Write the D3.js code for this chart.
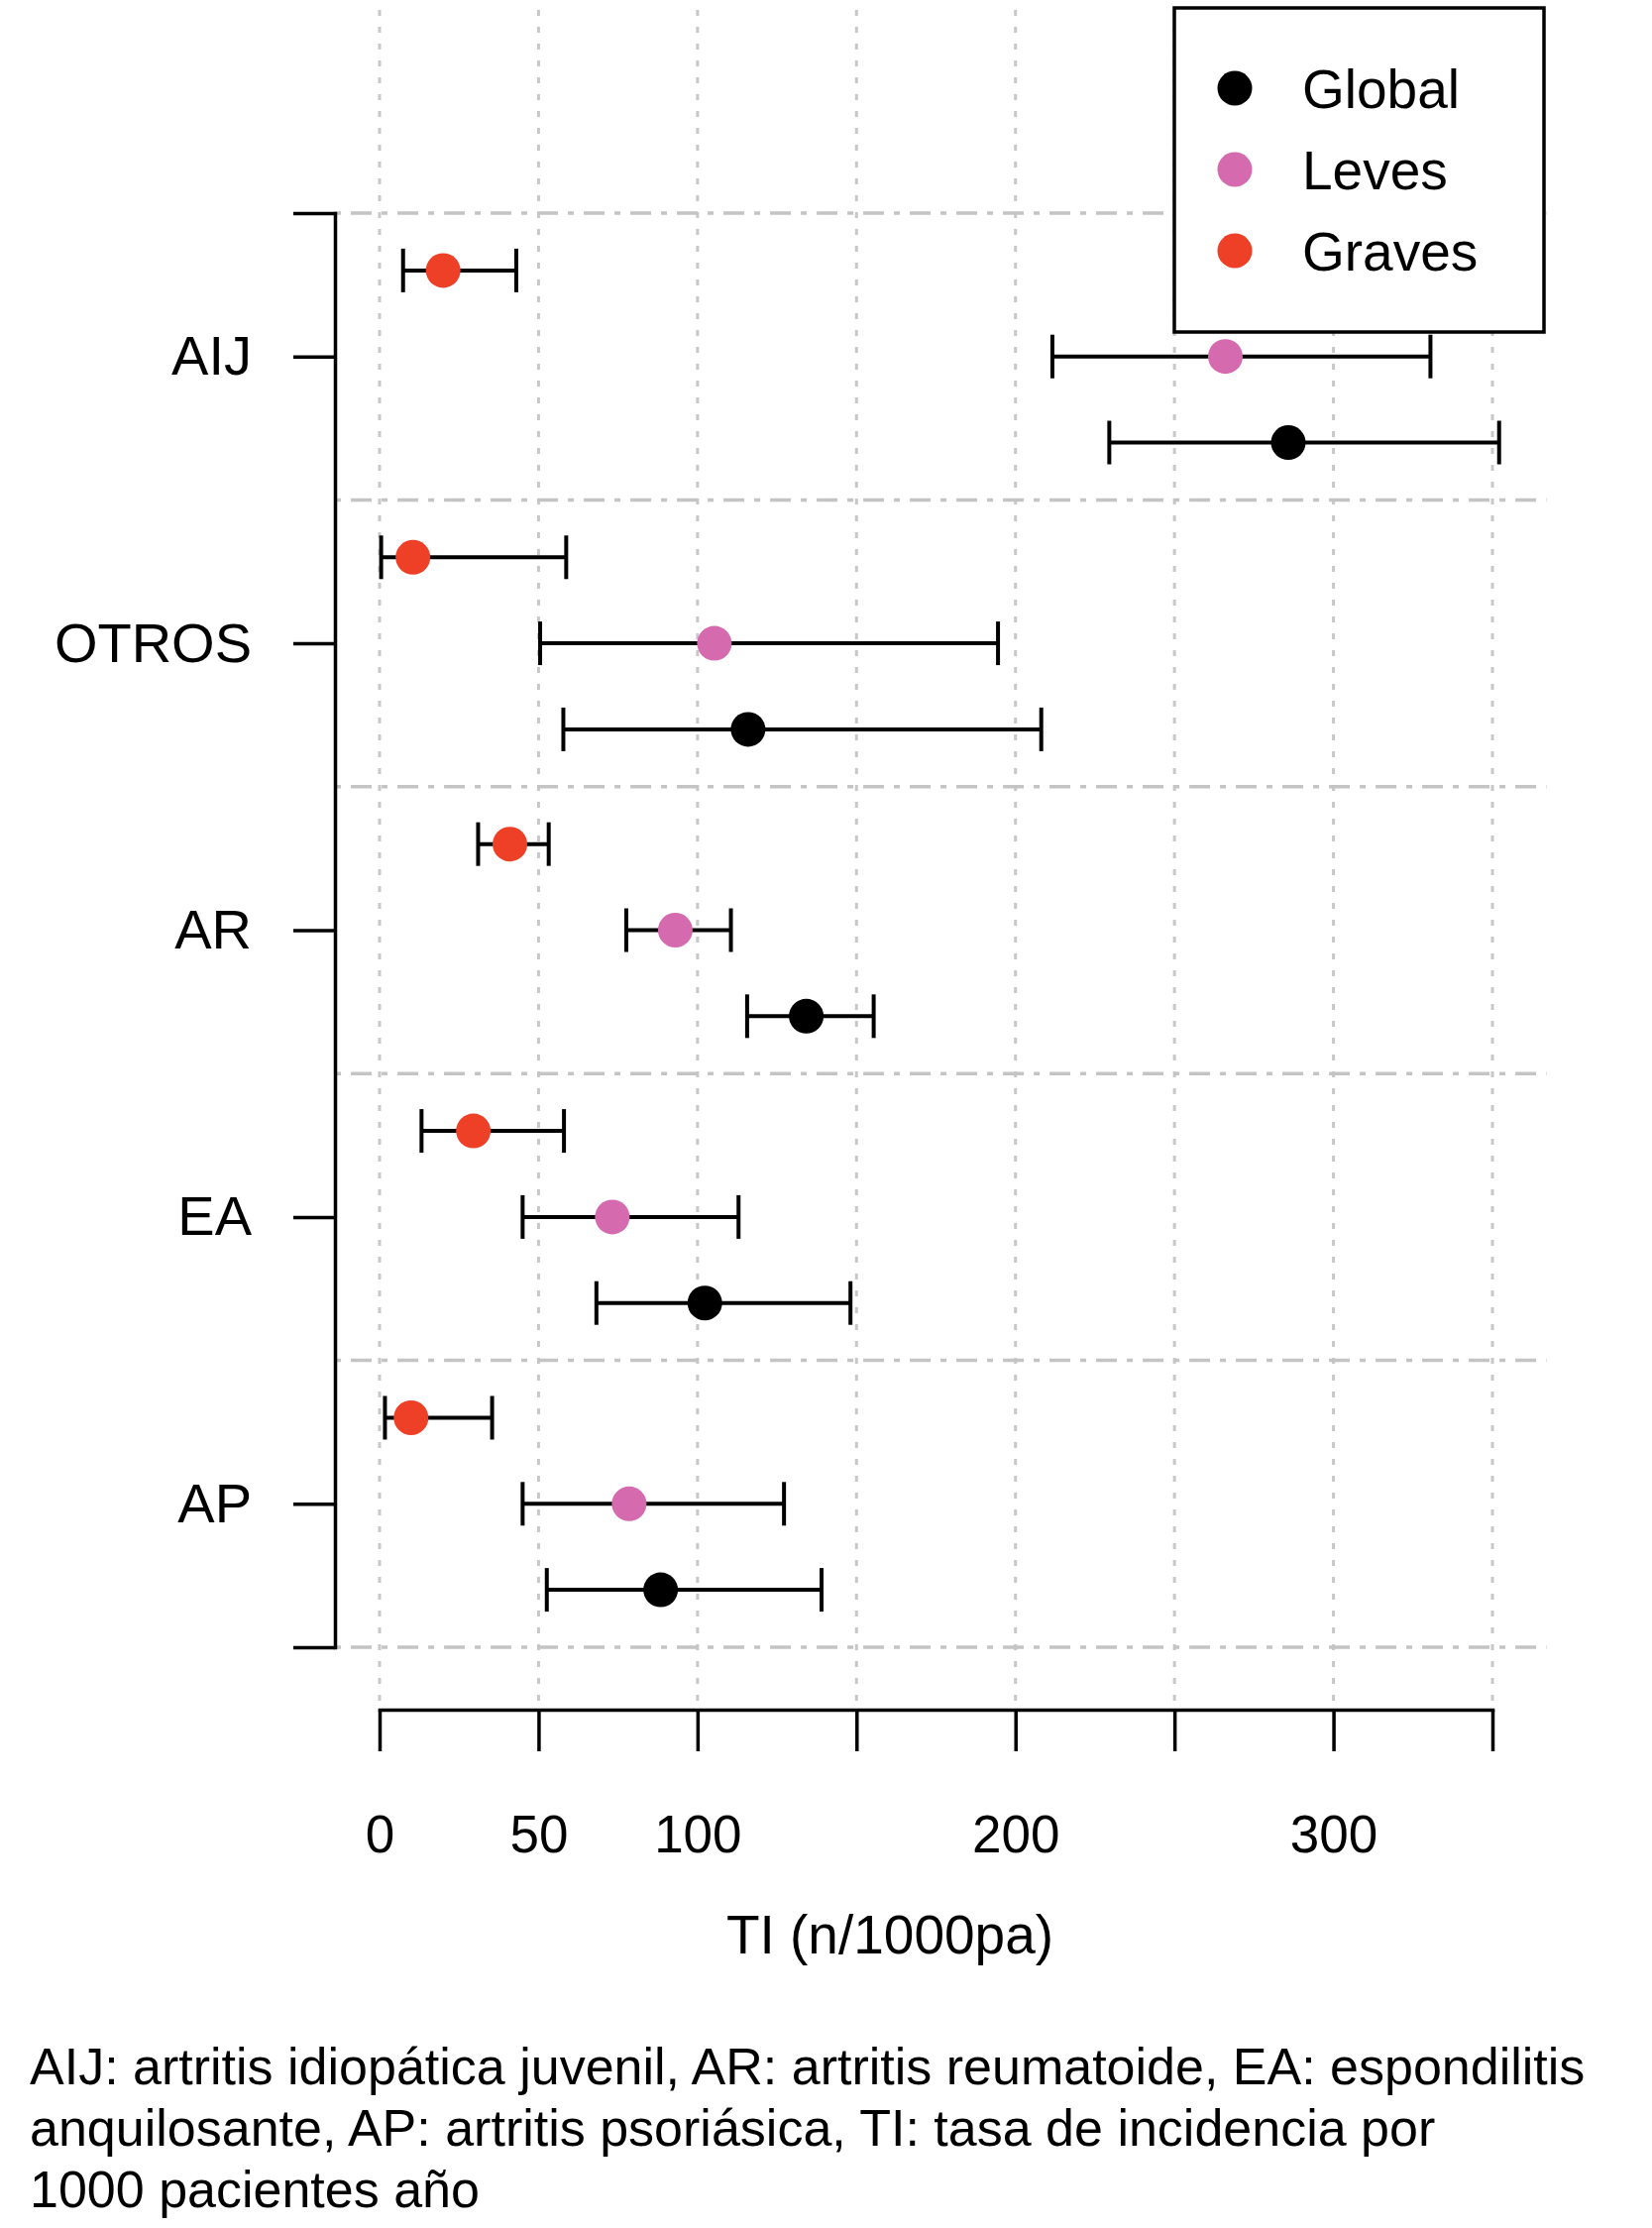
<!DOCTYPE html>
<html>
<head>
<meta charset="utf-8">
<style>
  body { margin: 0; background: #fff; }
  svg { font-family: "Liberation Sans", Arial, Helvetica, sans-serif; }
  .grid-v line { stroke: #c8c8c8; stroke-width: 3px; stroke-dasharray: 6 11; }
  .grid-h line { stroke: #c4c4c4; stroke-width: 3.5px; stroke-dasharray: 6 10 21 10; }
  .axis path, .axis line { stroke: #000; stroke-width: 3.5px; }
  .axis text { fill: #000; font-size: 53px; }
  .axis--y text { font-size: 56px; }
  .bars line { stroke: #000; stroke-width: 4px; }
</style>
</head>
<body>
<script src="https://cdn.jsdelivr.net/npm/d3@7/dist/d3.min.js"></script>
<script>

// categories, top to bottom
var categories = ["AIJ", "OTROS", "AR", "EA", "AP"];

// incidence rates (TI, n/1000pa) with confidence limits
var graves   = [20,    10.5,  41,    29.5,  9.9];
var gravesLo = [7.4,   0.5,   31,    13.2,  1.7];
var gravesHi = [43,    58.7,  53.2,  58,    35.4];

var leves    = [266,   105.3, 93,    73.2,  78.5];
var levesLo  = [211.6, 50.5,  77.6,  45,    45];
var levesHi  = [330.5, 194.5, 110.5, 112.9, 127.2];

var global   = [285.8, 115.9, 134.2, 102.3, 88.4];
var globalLo = [229.5, 57.8,  115.6, 68.2,  52.6];
var globalHi = [352.1, 208.1, 155.4, 148.1, 139];

var xTicks = [0, 50, 100, 150, 200, 250, 300, 350];
var xLabels = [0, 50, 100, 200, 300];

var seriesNames = ["Global", "Leves", "Graves"];
var seriesColors = ["#000000", "#d56aae", "#ee4027"];
var seriesOffset = [0.3, 0, -0.3];

var footer = [
  "AIJ: artritis idiopática juvenil, AR: artritis reumatoide, EA: espondilitis",
  "anquilosante, AP: artritis psoriásica, TI: tasa de incidencia por",
  "1000 pacientes año"
];

// svg object
var svg = d3.select("body")
  .append("svg")
    .attr("width", 1667)
    .attr("height", 2248);

// scales
var x = d3.scaleLinear().domain([0, 350]).range([383, 1506]);
var y = d3.scaleLinear().domain([0.5, 5.5]).range([215, 1662]);

// build rows from the arrays
var rows = [];
categories.forEach(function(c, i) {
  rows.push({s: 0, pos: i + 1, v: global[i], lo: globalLo[i], hi: globalHi[i]});
  rows.push({s: 1, pos: i + 1, v: leves[i],  lo: levesLo[i],  hi: levesHi[i]});
  rows.push({s: 2, pos: i + 1, v: graves[i], lo: gravesLo[i], hi: gravesHi[i]});
});

// vertical dotted grid
svg.append("g")
  .attr("class", "grid-v")
  .selectAll("line")
  .data(xTicks)
  .enter().append("line")
    .attr("x1", function(d) { return x(d); })
    .attr("x2", function(d) { return x(d); })
    .attr("y1", 10)
    .attr("y2", 1725);

// horizontal dot-dash lines at group boundaries
var bounds = d3.range(0.5, 6, 1);
svg.append("g")
  .attr("class", "grid-h")
  .selectAll("line")
  .data(bounds)
  .enter().append("line")
    .attr("x1", x(-14))
    .attr("x2", x(367))
    .attr("y1", function(d) { return y(d); })
    .attr("y2", function(d) { return y(d); });

// y axis
svg.append("g")
  .attr("class", "axis axis--y")
  .attr("transform", "translate(338,0)")
  .call(d3.axisLeft(y)
    .tickValues([0.5, 1, 2, 3, 4, 5, 5.5])
    .tickFormat(function(d) { return Number.isInteger(d) ? categories[d - 1] : ""; })
    .tickSize(42)
    .tickSizeOuter(0)
    .tickPadding(42));

// x axis
svg.append("g")
  .attr("class", "axis axis--x")
  .attr("transform", "translate(0,1725)")
  .call(d3.axisBottom(x)
    .tickValues(xTicks)
    .tickFormat(function(d) { return xLabels.indexOf(d) >= 0 ? d : ""; })
    .tickSize(42)
    .tickSizeOuter(0)
    .tickPadding(64));

svg.selectAll(".axis .domain").attr("stroke-linecap", "square");

// x axis title
svg.append("text")
  .attr("x", 898)
  .attr("y", 1971)
  .style("text-anchor", "middle")
  .style("font-size", "55px")
  .text("TI (n/1000pa)");

// error bars
var bars = svg.append("g").attr("class", "bars");
var yr = function(d) { return y(d.pos + seriesOffset[d.s]); };

bars.selectAll("line.ci")
  .data(rows)
  .enter().append("line")
    .attr("class", "ci")
    .attr("x1", function(d) { return x(d.lo); })
    .attr("x2", function(d) { return x(d.hi); })
    .attr("y1", yr)
    .attr("y2", yr);

["lo", "hi"].forEach(function(k) {
  bars.selectAll("line.cap-" + k)
    .data(rows)
    .enter().append("line")
      .attr("class", "cap-" + k)
      .attr("x1", function(d) { return x(d[k]); })
      .attr("x2", function(d) { return x(d[k]); })
      .attr("y1", function(d) { return yr(d) - 22; })
      .attr("y2", function(d) { return yr(d) + 22; });
});

// points
svg.append("g")
  .selectAll("circle")
  .data(rows)
  .enter().append("circle")
    .attr("cx", function(d) { return x(d.v); })
    .attr("cy", yr)
    .attr("r", 17.5)
    .attr("fill", function(d) { return seriesColors[d.s]; });

// legend
var legend = svg.append("g").attr("transform", "translate(1185,8)");
legend.append("rect")
  .attr("width", 373)
  .attr("height", 327)
  .attr("fill", "#fff")
  .attr("stroke", "#000")
  .attr("stroke-width", 3.5);

var item = legend.selectAll("g.item")
  .data(seriesNames)
  .enter().append("g")
    .attr("class", "item")
    .attr("transform", function(d, i) { return "translate(0," + (81 + i * 82) + ")"; });

item.append("circle")
  .attr("cx", 61)
  .attr("r", 17.5)
  .attr("fill", function(d, i) { return seriesColors[i]; });

item.append("text")
  .attr("x", 129)
  .attr("dy", "0.36em")
  .style("font-size", "55px")
  .text(function(d) { return d; });

// footnote
svg.append("g")
  .selectAll("text")
  .data(footer)
  .enter().append("text")
    .attr("x", 30)
    .attr("y", function(d, i) { return 2103 + i * 62; })
    .style("font-size", "52px")
    .text(function(d) { return d; });

</script>
</body>
</html>
